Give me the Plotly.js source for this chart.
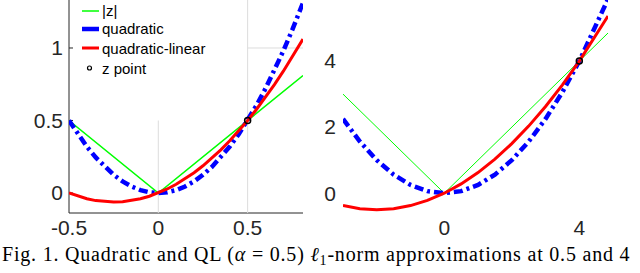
<!DOCTYPE html>
<html>
<head>
<meta charset="utf-8">
<script src="https://cdn.plot.ly/plotly-3.0.1.min.js"></script>
<style>
html,body{margin:0;padding:0;background:#fff;}
#chart{width:640px;height:273px;}
.annotation[data-index="4"] text{letter-spacing:0.8px;}
</style>
</head>
<body>
<div id="chart"></div>
<script>
// Left panel (z = 0.5)
const xLeft = [-0.5,-0.45,-0.4,-0.35,-0.3,-0.25,-0.2,-0.15,-0.1,-0.05,0,0.05,0.1,0.15,0.2,0.25,0.3,0.35,0.4,0.45,0.5,0.55,0.6,0.65,0.7,0.75,0.81];
const absXLeft = [-0.5, 0, 0.81];
const absLeft = [0.5, 0, 0.81];
const quadLeft = [0.5,0.405,0.32,0.245,0.18,0.125,0.08,0.045,0.02,0.005,0,0.005,0.02,0.045,0.08,0.125,0.18,0.245,0.32,0.405,0.5,0.605,0.72,0.845,0.98,1.125,1.312];
const qlLeft = [0,-0.0225,-0.04,-0.0525,-0.06,-0.0625,-0.06,-0.0525,-0.04,-0.0225,0,0.0275,0.06,0.0975,0.14,0.1875,0.24,0.2975,0.36,0.4275,0.5,0.5775,0.66,0.7475,0.84,0.9375,1.0611];
const zPointLeft = {x: [0.5], y: [0.5]};

// Right panel (z = 4)
const xRight = [-3,-2.5,-2,-1.5,-1,-0.5,0,0.5,1,1.5,2,2.5,3,3.5,4,4.5,4.85];
const absXRight = [-3, 0, 4.85];
const absRight = [3, 0, 4.85];
const quadRight = [2.25,1.5625,1,0.5625,0.25,0.0625,0,0.0625,0.25,0.5625,1,1.5625,2.25,3.0625,4,5.0625,5.88];
const qlRight = [-0.375,-0.46875,-0.5,-0.46875,-0.375,-0.21875,0,0.28125,0.625,1.03125,1.5,2.03125,2.625,3.28125,4,4.78125,5.365];
const zPointRight = {x: [4], y: [4]};

const leftXTicks = [-0.5, 0, 0.5];
const leftXTickText = ['-0.5', '0', '0.5'];
const leftYTicks = [0, 0.5, 1];
const leftYTickText = ['0', '0.5', '1'];
const rightXTicks = [0, 4];
const rightYTicks = [0, 2, 4];

const legendLabels = ['|z|', 'quadratic', 'quadratic-linear', 'z point'];
const caption = 'Fig. 1. Quadratic and QL (<i>α</i> = 0.5) <i>ℓ</i><sub>1</sub>-norm approximations at 0.5 and 4';

const GREEN = '#00ff00', BLUE = '#0000ff', RED = '#ff0000';
const DASH = '9px,4px,3px,4px';

function panel(xa, ya, xs, ax, ay, q, ql, zp, gw) {
  return [
    {x: ax, y: ay, xaxis: xa, yaxis: ya, mode: 'lines', line: {color: GREEN, width: gw}, hoverinfo: 'skip'},
    {x: xs, y: q, xaxis: xa, yaxis: ya, mode: 'lines', line: {color: BLUE, width: 4.5, dash: DASH}, hoverinfo: 'skip'},
    {x: xs, y: ql, xaxis: xa, yaxis: ya, mode: 'lines', line: {color: RED, width: 3}, hoverinfo: 'skip'},
    {x: zp.x, y: zp.y, xaxis: xa, yaxis: ya, mode: 'markers', marker: {size: 6, color: 'rgba(0,0,0,0)', line: {color: '#000', width: 1.5}}, hoverinfo: 'skip'}
  ];
}

const data = [].concat(
  panel('x', 'y', xLeft, absXLeft, absLeft, quadLeft, qlLeft, zPointLeft, 1.5),
  panel('x2', 'y2', xRight, absXRight, absRight, quadRight, qlRight, zPointRight, 1)
);

const W = 640, H = 273;
const px = v => v / W, py = v => 1 - v / H;
const tickFont = {family: 'Liberation Sans, Arial, sans-serif', size: 21, color: '#262626'};

const grid = '#dcdcdc';
const axisCol = '#262626';
const shapes = [
  {type: 'line', xref: 'x', yref: 'y', x0: 0.5, x1: 0.5, y0: -0.138, y1: 1.331, line: {color: grid, width: 1}, layer: 'below'},
  {type: 'line', xref: 'x', yref: 'y', x0: 0, x1: 0, y0: -0.138, y1: 0.5, line: {color: grid, width: 1}, layer: 'below'},
  {type: 'line', xref: 'x', yref: 'y', x0: 0.5, x1: 0.81, y0: 1, y1: 1, line: {color: grid, width: 1}, layer: 'below'},
  // left panel axis lines
  {type: 'line', xref: 'x domain', yref: 'y domain', x0: 0, x1: 0, y0: 0, y1: 1, line: {color: axisCol, width: 1}, layer: 'below'},
  {type: 'line', xref: 'x domain', yref: 'y domain', x0: 0, x1: 1, y0: 0, y1: 0, line: {color: axisCol, width: 1}, layer: 'below'}
];
// small inward tick marks on the left y axis
leftYTicks.forEach(v => {
  shapes.push({type: 'line', xref: 'x', yref: 'y', xsizemode: 'pixel', xanchor: -0.5, x0: 0, x1: 4, y0: v, y1: v,
               line: {color: axisCol, width: 1}, layer: 'below'});
});
const legendY = [11, 29, 48, 68];
const legendStyles = [
  {color: GREEN, width: 1.5}, {color: BLUE, width: 4.5}, {color: RED, width: 3}
];
legendStyles.forEach((s, i) => {
  shapes.push({type: 'line', xref: 'paper', yref: 'paper', x0: px(82), x1: px(99), y0: py(legendY[i]), y1: py(legendY[i]), line: s});
});
shapes.push({type: 'circle', xref: 'paper', yref: 'paper', x0: px(87.5), x1: px(91.5), y0: py(70), y1: py(66), line: {color: '#000', width: 1.2}});

const annotations = legendLabels.map((t, i) => ({
  text: t, xref: 'paper', yref: 'paper', x: px(100), y: py(legendY[i]), xanchor: 'left', yanchor: 'middle',
  showarrow: false, font: {family: 'Liberation Sans, Arial, sans-serif', size: 15, color: '#000'}
}));
annotations.push({
  text: caption, xref: 'paper', yref: 'paper', x: px(316), y: py(255), xanchor: 'center', yanchor: 'middle',
  showarrow: false, font: {family: 'Liberation Serif, Times New Roman, serif', size: 20, color: '#000'}
});

const layout = {
  width: W, height: H,
  margin: {l: 0, r: 0, t: 0, b: 0},
  paper_bgcolor: '#fff', plot_bgcolor: 'rgba(0,0,0,0)',
  showlegend: false,
  xaxis: {domain: [px(69), px(303)], range: [-0.5, 0.81], tickvals: leftXTicks, ticktext: leftXTickText,
          showgrid: false, zeroline: false, showline: false, ticks: '', tickfont: tickFont, anchor: 'y', ticklabelstandoff: 0},
  yaxis: {domain: [py(213), 1], range: [-0.138, 1.331], tickvals: leftYTicks, ticktext: leftYTickText,
          showgrid: false, zeroline: false, showline: false, ticks: '', tickfont: tickFont, anchor: 'x', ticklabelstandoff: 5},
  xaxis2: {domain: [px(343), px(608)], range: [-3, 4.85], tickvals: rightXTicks,
           showgrid: false, zeroline: false, showline: false, ticks: '', tickfont: tickFont, anchor: 'y2', ticklabelstandoff: 0},
  yaxis2: {domain: [py(213), 1], range: [-0.6, 5.85], tickvals: rightYTicks,
           showgrid: false, zeroline: false, showline: false, ticks: '', tickfont: tickFont, anchor: 'x2', ticklabelstandoff: 6},
  shapes: shapes,
  annotations: annotations
};

Plotly.newPlot('chart', data, layout, {staticPlot: true, displayModeBar: false});
</script>
</body>
</html>
